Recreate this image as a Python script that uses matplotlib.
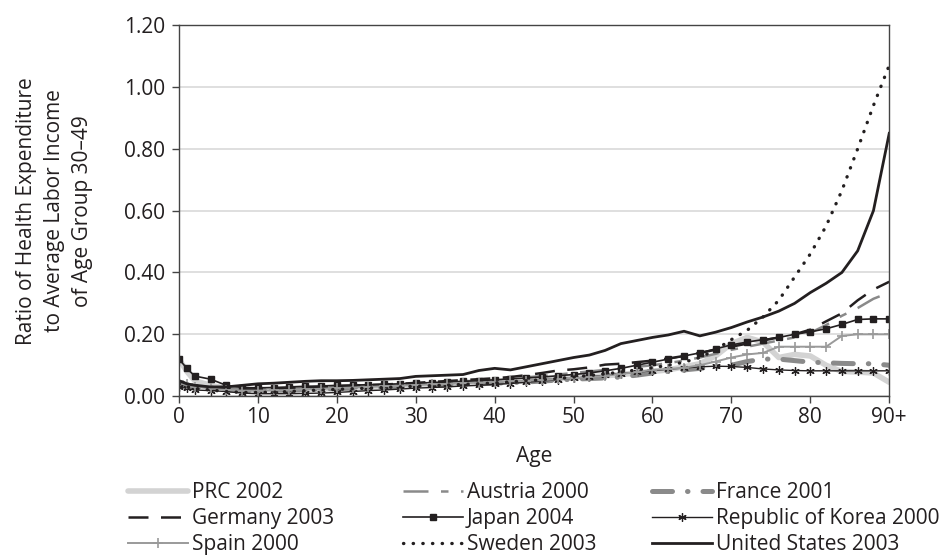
import matplotlib
matplotlib.use("Agg")
import matplotlib.pyplot as plt

plt.rcParams['font.family'] = ['Open Sans', 'DejaVu Sans']

# ages (years); last point stands for 90+
ages = [0, 1, 2, 4, 6, 8, 10, 12, 14, 16, 18, 20, 22, 24, 26, 28, 30, 32, 34, 36, 38, 40,
        42, 44, 46, 48, 50, 52, 54, 56, 58, 60, 62, 64, 66, 68, 70, 72, 74, 76, 78, 80,
        82, 84, 86, 88, 90]

prc = [0.12, 0.08, 0.05, 0.035, 0.025, 0.02, 0.02, 0.02, 0.021, 0.022, 0.023, 0.025, 0.026, 0.028,
       0.03, 0.032, 0.035, 0.037, 0.039, 0.041, 0.043, 0.045, 0.047, 0.05, 0.053, 0.056, 0.06,
       0.063, 0.066, 0.07, 0.075, 0.08, 0.085, 0.095, 0.105, 0.13, 0.17, 0.19, 0.175, 0.125, 0.135,
       0.13, 0.1, 0.08, 0.078, 0.075, 0.045]
austria = [0.05, 0.04, 0.035, 0.03, 0.025, 0.022, 0.021, 0.022, 0.024, 0.026, 0.028, 0.03, 0.032,
           0.034, 0.036, 0.038, 0.04, 0.042, 0.045, 0.048, 0.051, 0.054, 0.057, 0.061, 0.065, 0.07,
           0.075, 0.08, 0.085, 0.09, 0.095, 0.1, 0.107, 0.115, 0.125, 0.137, 0.15, 0.16, 0.17, 0.18,
           0.19, 0.205, 0.23, 0.26, 0.285, 0.315, 0.335]
france = [0.04, 0.035, 0.03, 0.025, 0.02, 0.018, 0.018, 0.019, 0.02, 0.021, 0.023, 0.025, 0.026,
          0.028, 0.03, 0.031, 0.033, 0.035, 0.036, 0.038, 0.04, 0.042, 0.044, 0.046, 0.049, 0.052,
          0.055, 0.057, 0.059, 0.062, 0.068, 0.075, 0.08, 0.085, 0.09, 0.095, 0.1, 0.112, 0.12, 0.12,
          0.115, 0.11, 0.108, 0.106, 0.105, 0.105, 0.1]
germany = [0.05, 0.04, 0.035, 0.03, 0.025, 0.022, 0.022, 0.023, 0.025, 0.028, 0.03, 0.032, 0.034,
           0.036, 0.038, 0.04, 0.043, 0.046, 0.049, 0.052, 0.055, 0.058, 0.062, 0.068, 0.075, 0.083,
           0.087, 0.093, 0.102, 0.105, 0.11, 0.115, 0.122, 0.13, 0.14, 0.15, 0.16, 0.17, 0.18, 0.19,
           0.2, 0.215, 0.242, 0.268, 0.31, 0.345, 0.37]
japan = [0.12, 0.09, 0.065, 0.055, 0.035, 0.028, 0.027, 0.028, 0.03, 0.032, 0.033, 0.035, 0.036,
         0.037, 0.038, 0.04, 0.042, 0.044, 0.046, 0.048, 0.05, 0.053, 0.056, 0.059, 0.062, 0.066,
         0.07, 0.075, 0.082, 0.09, 0.1, 0.11, 0.12, 0.13, 0.14, 0.153, 0.166, 0.175, 0.183, 0.19,
         0.2, 0.208, 0.218, 0.232, 0.248, 0.25, 0.25]
korea = [0.03, 0.025, 0.02, 0.018, 0.015, 0.01, 0.008, 0.008, 0.008, 0.009, 0.01, 0.012, 0.015,
         0.018, 0.02, 0.023, 0.026, 0.028, 0.03, 0.033, 0.035, 0.038, 0.041, 0.045, 0.049, 0.053,
         0.058, 0.063, 0.068, 0.073, 0.078, 0.082, 0.087, 0.091, 0.095, 0.097, 0.096, 0.093, 0.088,
         0.085, 0.083, 0.082, 0.082, 0.082, 0.082, 0.082, 0.082]
spain = [0.05, 0.04, 0.03, 0.025, 0.02, 0.018, 0.018, 0.019, 0.02, 0.022, 0.024, 0.026, 0.028,
         0.03, 0.032, 0.034, 0.036, 0.038, 0.04, 0.042, 0.044, 0.046, 0.048, 0.05, 0.052, 0.055,
         0.058, 0.062, 0.066, 0.072, 0.078, 0.085, 0.088, 0.092, 0.1, 0.112, 0.125, 0.135, 0.14,
         0.16, 0.16, 0.16, 0.16, 0.195, 0.2, 0.2, 0.2]
sweden = [0.04, 0.03, 0.025, 0.02, 0.015, 0.012, 0.012, 0.013, 0.015, 0.018, 0.02, 0.022, 0.024,
          0.026, 0.028, 0.03, 0.032, 0.034, 0.036, 0.038, 0.04, 0.043, 0.046, 0.05, 0.053, 0.057,
          0.062, 0.067, 0.072, 0.078, 0.085, 0.092, 0.1, 0.11, 0.125, 0.15, 0.183, 0.213, 0.256,
          0.31, 0.385, 0.46, 0.55, 0.665, 0.8, 0.94, 1.07]
usa = [0.05, 0.04, 0.035, 0.03, 0.03, 0.035, 0.04, 0.042, 0.045, 0.048, 0.05, 0.05, 0.051, 0.053,
       0.055, 0.057, 0.064, 0.066, 0.068, 0.07, 0.083, 0.09, 0.085, 0.095, 0.105, 0.115, 0.125,
       0.133, 0.148, 0.17, 0.18, 0.19, 0.198, 0.21, 0.195, 0.207, 0.222, 0.24, 0.256, 0.275, 0.3,
       0.335, 0.365, 0.4, 0.47, 0.6, 0.85]

x_ticks = [0, 10, 20, 30, 40, 50, 60, 70, 80, 90]
x_labels = ['0', '10', '20', '30', '40', '50', '60', '70', '80', '90+']
y_ticks = [0.0, 0.2, 0.4, 0.6, 0.8, 1.0, 1.2]

txt = '#231f20'
fs = 15
fig = plt.figure(figsize=(9.47, 5.58), dpi=100)
ax = fig.add_axes([0.189, 0.290, 0.750, 0.665])

h = {}
h['PRC 2002'] = ax.plot(ages, prc, color='#d3d3d3', lw=4.0, solid_capstyle='round')[0]
h['Austria 2000'] = ax.plot(ages, austria, color='#8a8a8a', lw=1.8, dashes=(10, 5, 3, 5))[0]
h['France 2001'] = ax.plot(ages, france, color='#8a8a8a', lw=3.6, dashes=(4, 3, 0.1, 3),
                           dash_capstyle='round')[0]
h['Germany 2003'] = ax.plot(ages, germany, color='#231f20', lw=1.8, dashes=(8, 5))[0]
h['Japan 2004'] = ax.plot(ages, japan, color='#231f20', lw=1.2, marker='s', ms=4)[0]
h['Republic of Korea 2000'] = ax.plot(ages, korea, color='#231f20', lw=1.0, marker=(6, 2, 0),
                                      ms=6, mew=0.9)[0]
h['Spain 2000'] = ax.plot(ages, spain, color='#9a9a9a', lw=1.4, marker='+', ms=7, mew=1.2)[0]
h['Sweden 2003'] = ax.plot(ages, sweden, color='#231f20', lw=2.4, dashes=(0.1, 2.8),
                           dash_capstyle='round')[0]
h['United States 2003'] = ax.plot(ages, usa, color='#231f20', lw=2.0)[0]

ax.set_xlim(0, 90)
ax.set_ylim(0, 1.2)
ax.set_xticks(x_ticks)
ax.set_xticklabels(x_labels)
ax.set_yticks(y_ticks)
ax.set_yticklabels(['%.2f' % v for v in y_ticks])
ax.grid(axis='y', color='#d9d9d9', lw=1.2)
ax.set_axisbelow(True)
for s in ax.spines.values():
    s.set_color('#444444')
    s.set_linewidth(1.0)
ax.tick_params(axis='both', colors='#444444', labelcolor=txt, labelsize=fs, length=5,
               width=1.0, direction='out')
ax.tick_params(axis='x', pad=3)
ax.tick_params(axis='y', pad=5)
ax.set_xlabel('Age', fontsize=fs, color=txt, labelpad=13)
ax.set_ylabel('Ratio of Health Expenditure\nto Average Labor Income\nof Age Group 30\u201349',
              fontsize=fs, color=txt, labelpad=22, linespacing=1.45)

cols = [['PRC 2002', 'Germany 2003', 'Spain 2000'],
        ['Austria 2000', 'Japan 2004', 'Sweden 2003'],
        ['France 2001', 'Republic of Korea 2000', 'United States 2003']]
col_x = [128, 403, 652]
for names, cx in zip(cols, col_x):
    leg = fig.legend([h[n] for n in names], names, loc='upper left',
                     bbox_to_anchor=(cx / 947, 1 - 482 / 558), frameon=False, fontsize=fs,
                     handlelength=2.9, handletextpad=0.15, borderpad=0, borderaxespad=0,
                     labelspacing=0.24)
    for t in leg.get_texts():
        t.set_color(txt)
    for lh in leg.legend_handles:
        lh.set_markevery([1])

fig.savefig('out.png', dpi=100)
